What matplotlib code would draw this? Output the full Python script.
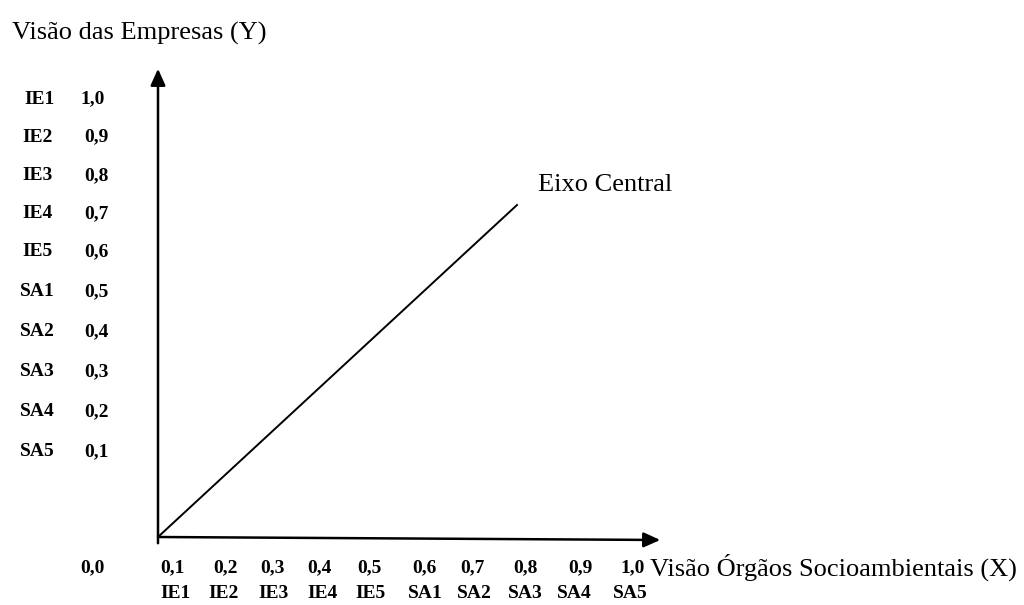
import matplotlib
matplotlib.use("Agg")
from matplotlib import pyplot as plt

# chart content
y_values = ["1,0", "0,9", "0,8", "0,7", "0,6", "0,5", "0,4", "0,3", "0,2", "0,1"]
y_codes = ["IE1", "IE2", "IE3", "IE4", "IE5", "SA1", "SA2", "SA3", "SA4", "SA5"]
x_values = ["0,1", "0,2", "0,3", "0,4", "0,5", "0,6", "0,7", "0,8", "0,9", "1,0"]
x_codes = ["IE1", "IE2", "IE3", "IE4", "IE5", "SA1", "SA2", "SA3", "SA4", "SA5"]
origin_label = "0,0"
y_title = "Visão das Empresas (Y)"
x_title = "Visão Órgãos Socioambientais (X)"
line_label = "Eixo Central"

# layout (pixel canvas)
y_rows = [99, 137, 176, 214, 252, 292, 332, 372, 412, 452]
y_code_x = [24, 22, 22, 22, 22, 20, 20, 20, 20, 20]
y_val_x = [80, 84, 84, 84, 84, 84, 84, 84, 84, 84]
x_val_x = [160, 213, 260, 307, 357, 412, 460, 513, 568, 620]
x_code_x = [160, 208, 258, 307, 355, 408, 457, 508, 557, 613]

serif = "Liberation Serif"
fig = plt.figure(figsize=(10.24, 6.05), dpi=100)
ax = fig.add_axes([0, 0, 1, 1])
ax.set_xlim(0, 1024)
ax.set_ylim(605, 0)
ax.axis("off")

bold = dict(family=serif, fontsize=14, fontweight="bold", va="center", ha="left")
plain = dict(family=serif, fontsize=19, va="center", ha="left")

# axes with arrows
ax.annotate("", xy=(158, 66), xytext=(158, 546),
            arrowprops=dict(arrowstyle="-|>,head_length=1.0,head_width=0.45", color="black", lw=1.8))
ax.annotate("", xy=(663, 540), xytext=(157, 537),
            arrowprops=dict(arrowstyle="-|>,head_length=1.0,head_width=0.45", color="black", lw=1.8))
ax.plot([158, 517], [537, 205], color="black", lw=1.4)

for code, val, yy, cx, vx in zip(y_codes, y_values, y_rows, y_code_x, y_val_x):
    ax.text(cx, yy, code, **bold)
    ax.text(vx, yy, val, **bold)
ax.text(80, 568, origin_label, **bold)

for val, code, vx, cx in zip(x_values, x_codes, x_val_x, x_code_x):
    ax.text(vx, 568, val, **bold)
    ax.text(cx, 593, code, **bold)

ax.text(12, 33, y_title, **plain)
ax.text(650, 567, x_title, **plain)
ax.text(538, 185, line_label, **plain)

fig.savefig("out.png", dpi=100)
